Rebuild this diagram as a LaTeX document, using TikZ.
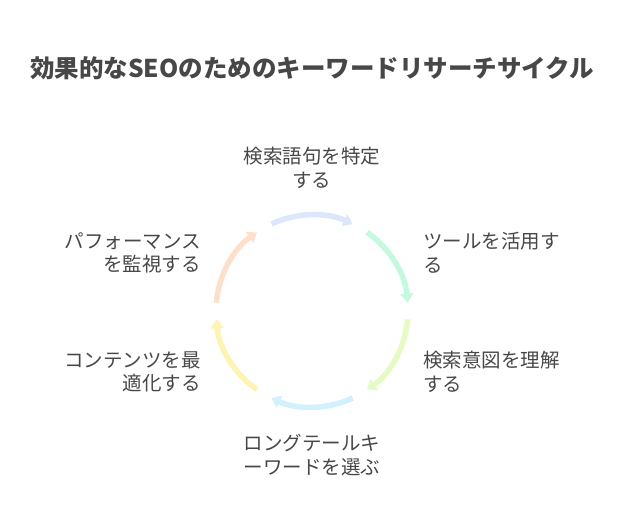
\documentclass[tikz,border=0pt]{standalone}
\usepackage{fontspec}
\setmainfont{Noto Sans CJK JP}
\usetikzlibrary{arrows.meta}

\definecolor{textgray}{HTML}{474747}
\definecolor{arcblue}{HTML}{DCE7FD}
\definecolor{arcmint}{HTML}{C5F9DF}
\definecolor{arclime}{HTML}{E6FBC3}
\definecolor{arccyan}{HTML}{D2F1FC}
\definecolor{arcyellow}{HTML}{FDF4B3}
\definecolor{arcpeach}{HTML}{FDE0CB}

\tikzset{
  cyclearc/.style={line width=5.5pt, -{Triangle[length=9pt,width=13pt]}},
  steplabel/.style={font=\fontsize{19.5}{23.5}\selectfont, text=textgray, inner sep=0pt},
}

\begin{document}
\begin{tikzpicture}
    % 画布范围
    \useasboundingbox (-312pt,-217pt) rectangle (312pt,311pt);
    % 标题
    \node[font=\fontsize{24.5}{28}\selectfont\bfseries, text=textgray]
      (title) at (0pt,243pt) {効果的なSEOのためのキーワードリサーチサイクル};
    % 六段圆弧
    \foreach \a/\c in {115/arcblue, 55/arcmint, -5/arclime,
                       -65/arccyan, -125/arcyellow, 175/arcpeach} {   % 起始角度与颜色
      \draw[cyclearc, \c] (\a:96pt) arc[start angle=\a, end angle=\a-50, radius=96pt];
    }
    % 各步骤文字
    \node[steplabel, align=center] (identify) at (0pt,143pt) {検索語句を特定\\する};
    \node[steplabel, align=left, anchor=west] (tools) at (111pt,58pt) {ツールを活用す\\る};
    \node[steplabel, align=left, anchor=west] (intent) at (111pt,-61pt) {検索意図を理解\\する};
    \node[steplabel, align=center] (longtail) at (0pt,-144pt) {ロングテールキ\\ーワードを選ぶ};
    \node[steplabel, align=right, anchor=east] (optimize) at (-111pt,-61pt) {コンテンツを最\\適化する};
    \node[steplabel, align=right, anchor=east] (monitor) at (-111pt,58pt) {パフォーマンス\\を監視する};
\end{tikzpicture}
\end{document}
